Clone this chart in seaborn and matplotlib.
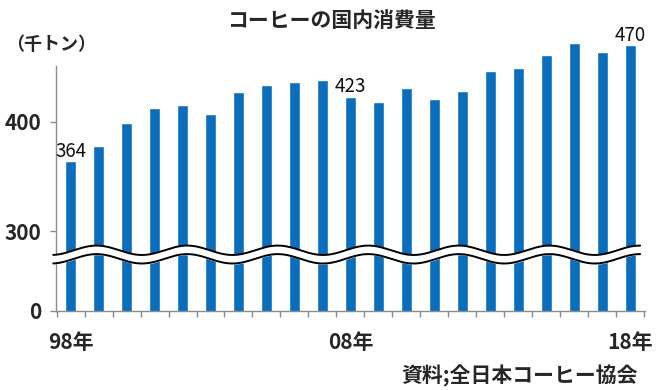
import numpy as np
import pandas as pd
import seaborn as sns
import matplotlib.pyplot as plt

# Coffee consumption in Japan, thousand tons (1998-2018)
years = [str(y) for y in range(1998, 2019)]
consumption = [364, 378, 399, 413, 415, 407, 427, 434, 436, 438, 423,
               418, 431, 421, 428, 446, 449, 461, 472, 464, 470]
labeled_idx = [0, 10, 20]
tick_idx = [0, 10, 20]
tick_labels = ['98年', '08年', '18年']
ytick_values = [300, 400]

BAR_COLOR = '#0a6ebd'
AXIS_GRAY = '#8c8c8c'
ZERO_AT = 227.1      # where the broken axis draws "0"
BREAK_AT = 278.5     # centre of the wavy break

sns.set_style('white')
plt.rcParams['font.family'] = ['Noto Sans CJK JP', 'DejaVu Sans']

df = pd.DataFrame({'year': years, 'value': consumption})

fig = plt.figure(figsize=(6.58, 3.90), dpi=100)
ax = fig.add_axes([0.0851, 0.2033, 0.895, 0.7087])

sns.barplot(data=df, x='year', y='value', color=BAR_COLOR, saturation=1,
            width=0.39, ax=ax)

ax.set_xlim(-0.52, 20.52)
ax.set_ylim(ZERO_AT, 480)

# value labels on selected bars
for i in labeled_idx:
    ax.annotate(str(consumption[i]), (i, consumption[i]), xytext=(0, 3.2),
                textcoords='offset points', ha='center', va='baseline',
                fontsize=13.5, color='#111111')

# axes styling
for side in ['top', 'right']:
    ax.spines[side].set_visible(False)
for side in ['left', 'bottom']:
    ax.spines[side].set_color(AXIS_GRAY)
    ax.spines[side].set_linewidth(1.0)
ax.spines['left'].set_bounds(ZERO_AT, 451)

ax.set_yticks([ZERO_AT] + ytick_values)
ax.set_yticklabels(['0'] + [str(v) for v in ytick_values],
                   fontsize=15, fontweight='bold')
ax.tick_params(axis='y', length=4.5, width=1, color=AXIS_GRAY, pad=6,
               left=True)

ax.set_xticks(tick_idx)
ax.set_xticklabels(tick_labels, fontsize=15, fontweight='bold')
ax.set_xticks(np.arange(-0.5, 21, 1.0), minor=True)
ax.tick_params(axis='x', which='major', length=0, pad=15)
ax.tick_params(axis='x', which='minor', length=4, width=1, color=AXIS_GRAY,
               bottom=True)
ax.set_xlabel('')
ax.set_ylabel('')

# wavy axis-break marker
wx = np.linspace(-0.62, 20.35, 400)
wave = 4.3 * np.cos(2 * np.pi * (wx - 0.93) / 3.236)
upper = BREAK_AT + 3.9 + wave
lower = BREAK_AT - 3.9 + wave
ax.fill_between(wx, lower, upper, color='white', zorder=5, clip_on=False)
ax.plot(wx, upper, color='black', lw=1.4, zorder=6, clip_on=False)
ax.plot(wx, lower, color='black', lw=1.4, zorder=6, clip_on=False)

fig.text(0.504, 1 - 20.5 / 390, 'コーヒーの国内消費量', ha='center',
         va='center', fontsize=15, fontweight='bold')
fig.text(6 / 658, 1 - 45 / 390, '（千トン）', ha='left', va='center',
         fontsize=13, fontweight='bold')
fig.text(638 / 658, 1 - 376 / 390, '資料;全日本コーヒー協会', ha='right',
         va='center', fontsize=15, fontweight='bold')

fig.savefig('out.png', dpi=100)
